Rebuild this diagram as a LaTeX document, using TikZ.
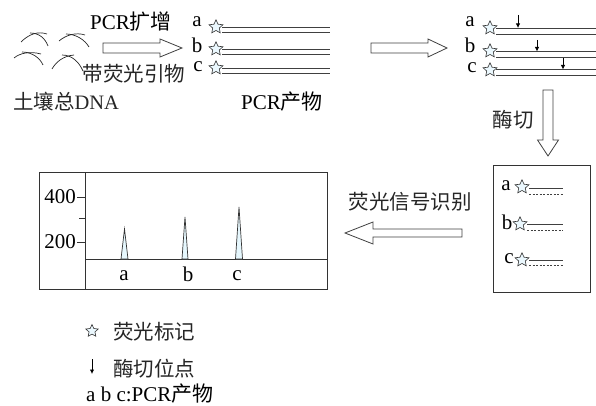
\documentclass[tikz,border=0pt]{standalone}
\usepackage{fontspec}
\setmainfont{Liberation Serif}
\newfontfamily\cjk{Noto Sans CJK SC}
\usetikzlibrary{shapes.geometric,arrows.meta}

\begin{document}
\begin{tikzpicture}[x=1pt,y=-1pt,
  lbl/.style={font=\fontsize{21}{21}\selectfont, inner sep=0},
  cn/.style={font=\fontsize{20.5}{21}\selectfont\cjk, inner sep=0, text=black!85},
  fluor/.style={star, star points=5, star point ratio=2.1, draw=black!80,
    fill=cyan!8, line width=0.6pt, minimum size=14.5pt, inner sep=0},
  fat/.style={draw=black!75, line width=0.8pt, fill=white},
  strand/.style={line width=0.9pt, draw=black!75},
  cut/.style={line width=0.8pt, -{Latex[length=4.5pt,width=4.5pt]}},
  frame/.style={draw=black!80, line width=0.8pt},
  dna/.style={line width=0.7pt, draw=black!85},
  peak/.style={draw=black!80, line width=0.7pt, fill=cyan!10}]

\useasboundingbox (0,0) rectangle (596,406);

% ---- soil DNA fragments ----
\draw[dna] (21,42) .. controls (29,34) and (38,31) .. (47,34);
\draw[dna] (30,33) .. controls (39,33) and (45,38) .. (48,46);
\draw[dna] (59,41) .. controls (66,35) and (76,32) .. (85,35);
\draw[dna] (66,34) .. controls (76,34) and (85,40) .. (89,47);
\draw[dna] (14,58) .. controls (20,53) and (30,51) .. (41,54);
\draw[dna] (22,52) .. controls (32,52) and (40,58) .. (43,65);
\draw[dna] (52,69) .. controls (56,62) and (63,56) .. (74,55);
\draw[dna] (62,55) .. controls (72,55) and (79,62) .. (83,71);
\node[cn] (soil) at (66,102) {土壤总{\rmfamily DNA}};

% ---- PCR step ----
\node[lbl] (pcr) at (131,22) {PCR{\cjk 扩增}};
\draw[fat] (103,43) -- (160,43) -- (160,39) -- (182,48) -- (160,57) -- (160,53) -- (103,53) -- cycle;
\node[cn] (primer) at (134,74) {带荧光引物};

% ---- labelled PCR products ----
\node[lbl] (la) at (197,22) {a};
\node[lbl] (lb) at (197,45) {b};
\node[lbl] (lc) at (198,67) {c};
\node[fluor] (sa) at (216,27) {};
\node[fluor] (sb) at (216,49) {};
\node[fluor] (sc) at (216,68) {};
\draw[strand] (222,27.7) -- (330,27.7);
\draw[strand] (222,32.7) -- (330,32.7);
\draw[strand] (222,49) -- (330,49);
\draw[strand] (222,54) -- (330,54);
\draw[strand] (222,68) -- (330,68);
\draw[strand] (222,73) -- (330,73);
\node[lbl] (prod) at (282,102) {PCR{\cjk 产物}};

% ---- second arrow ----
\draw[fat] (371,43) -- (428,43) -- (428,39) -- (447,48) -- (428,57) -- (428,53) -- (371,53) -- cycle;

% ---- products with cut sites ----
\node[lbl] (ra) at (470,22) {a};
\node[lbl] (rb) at (470,45) {b};
\node[lbl] (rc) at (472,68) {c};
\node[fluor] (ta) at (490,28) {};
\node[fluor] (tb) at (490,51) {};
\node[fluor] (tc) at (490,70) {};
\draw[strand] (496,28) -- (596,28);
\draw[strand] (496,34) -- (596,34);
\draw[strand] (496,51.5) -- (596,51.5);
\draw[strand] (496,57) -- (596,57);
\draw[strand] (496,69.5) -- (596,69.5);
\draw[strand] (496,75) -- (596,75);
\coordinate (ka) at (518,15);
\coordinate (kb) at (537,40);
\coordinate (kc) at (563,58);
\draw[cut] (ka) -- (518,28);
\draw[cut] (kb) -- (537,51.5);
\draw[cut] (kc) -- (563,69.5);

% ---- digestion ----
\draw[fat] (543,90) -- (553,90) -- (553,140) -- (558.5,140) -- (548,156) -- (537.5,140) -- (543,140) -- cycle;
\node[cn] (digest) at (513,120) {酶切};

% ---- digested fragments ----
\draw[frame] (493,165) rectangle (590,292);
\node[lbl] (fa) at (506,186) {a};
\node[lbl] (fb) at (507,222) {b};
\node[lbl] (fc) at (509,259) {c};
\node[fluor] (ua) at (522,187) {};
\node[fluor] (ub) at (520,224) {};
\node[fluor] (uc) at (522,260) {};
\draw[strand, line width=0.7pt] (529,188) -- (563,188);
\draw[strand, line width=0.6pt, dashed, dash pattern=on 2pt off 1.5pt] (529,194) -- (563,194);
\draw[strand, line width=0.7pt] (527,224) -- (563,224);
\draw[strand, line width=0.6pt, dashed, dash pattern=on 2pt off 1.5pt] (527,230) -- (563,230);
\draw[strand, line width=0.7pt] (529,260) -- (563,260);
\draw[strand, line width=0.6pt, dashed, dash pattern=on 2pt off 1.5pt] (529,265.5) -- (563,265.5);

% ---- detection ----
\node[cn] (detect) at (410,202) {荧光信号识别};
\draw[fat] (462,229) -- (373,229) -- (373,222) -- (345,233) -- (373,244) -- (373,237) -- (462,237) -- cycle;

% ---- electropherogram ----
\draw[frame] (39,172) rectangle (327,289);
\draw[frame] (85,172) -- (85,289);
\draw[frame] (85,259) -- (327,259);
\draw[frame] (77,197) -- (85,197);
\draw[frame] (79,218) -- (85,218);
\draw[frame] (77,242) -- (85,242);
\node[lbl, anchor=east] (y400) at (76,197) {400};
\node[lbl, anchor=east] (y200) at (76,242) {200};
\draw[peak] (121,259) -- (124.5,229) -- (128,259) -- cycle;
\draw[peak] (182,259) -- (185,217) -- (188,259) -- cycle;
\draw[peak] (235.5,259) -- (239,207) -- (242.5,259) -- cycle;
\node[lbl] (pa) at (124,276) {a};
\node[lbl] (pb) at (188,274) {b};
\node[lbl] (pc) at (237,276) {c};

% ---- legend ----
\node[fluor, minimum size=13pt] (kstar) at (92,331) {};
\node[cn, anchor=west] (kfl) at (113,332) {荧光标记};
\coordinate (karr) at (92,359);
\draw[cut] (karr) -- (92,374);
\node[cn, anchor=west] (kcut) at (113,369) {酶切位点};
\node[lbl, anchor=west] (kabc) at (86,394) {a b c:PCR{\cjk 产物}};
\end{tikzpicture}
\end{document}
